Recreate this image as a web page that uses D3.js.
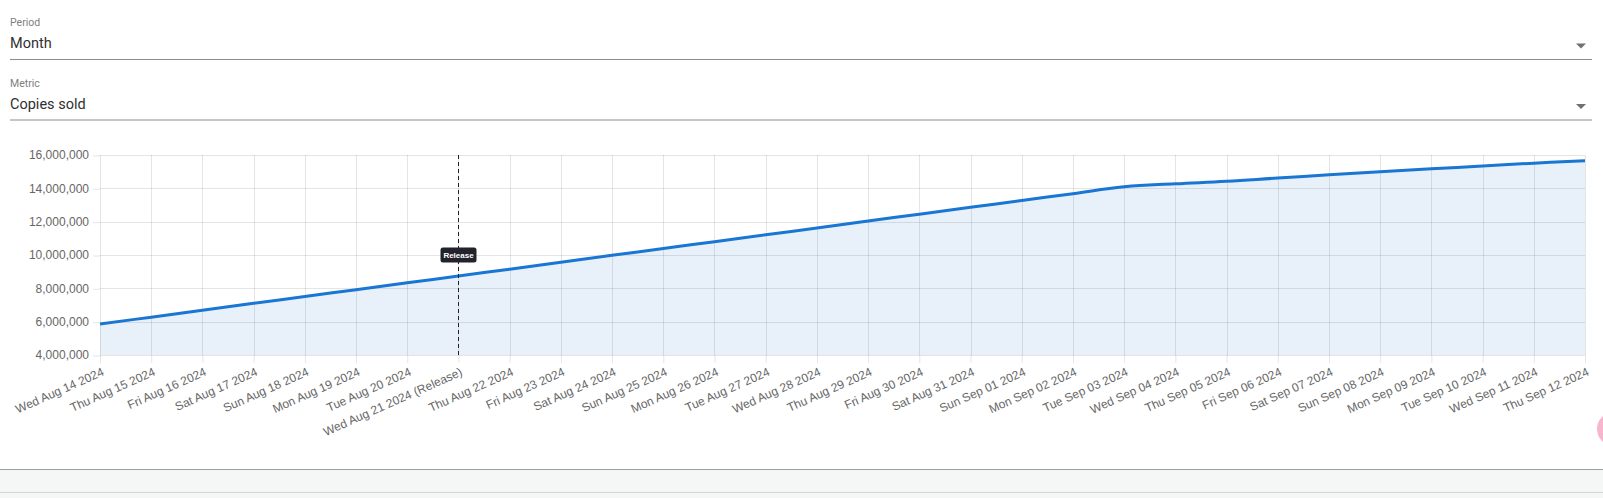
<!DOCTYPE html>
<html>
<head>
<meta charset="utf-8">
<script src="https://cdn.jsdelivr.net/npm/d3@7"></script>
<style>
  body { margin: 0; background: #fff; overflow: hidden; }
  svg { display: block; }
</style>
</head>
<body>
<svg id="chart"></svg>
<script>
// data
var days = ["Wed Aug 14 2024","Thu Aug 15 2024","Fri Aug 16 2024","Sat Aug 17 2024","Sun Aug 18 2024",
  "Mon Aug 19 2024","Tue Aug 20 2024","Wed Aug 21 2024 (Release)","Thu Aug 22 2024","Fri Aug 23 2024",
  "Sat Aug 24 2024","Sun Aug 25 2024","Mon Aug 26 2024","Tue Aug 27 2024","Wed Aug 28 2024",
  "Thu Aug 29 2024","Fri Aug 30 2024","Sat Aug 31 2024","Sun Sep 01 2024","Mon Sep 02 2024",
  "Tue Sep 03 2024","Wed Sep 04 2024","Thu Sep 05 2024","Fri Sep 06 2024","Sat Sep 07 2024",
  "Sun Sep 08 2024","Mon Sep 09 2024","Tue Sep 10 2024","Wed Sep 11 2024","Thu Sep 12 2024"];
var copiesSold = [5860000, 6270000, 6680000, 7100000, 7510000, 7920000, 8330000, 8740000, 9150000, 9570000,
  9980000, 10390000, 10800000, 11210000, 11620000, 12040000, 12450000, 12860000, 13270000, 13680000,
  14090000, 14270000, 14420000, 14620000, 14810000, 14990000, 15170000, 15340000, 15510000, 15660000];
var yTicks = [4000000, 6000000, 8000000, 10000000, 12000000, 14000000, 16000000];
var releaseDay = "Wed Aug 21 2024 (Release)";
var releaseText = "Release";
var fields = [{label: "Period", value: "Month"}, {label: "Metric", value: "Copies sold"}];

var W = 1603, H = 498;
var plot = {left: 100, right: 1585, top: 155, bottom: 355};
var chartFont = "'Liberation Sans', Arial, Helvetica, sans-serif";

var svg = d3.select("#chart").attr("width", W).attr("height", H);

// select fields on top
var fieldG = svg.selectAll(".field").data(fields).enter().append("g")
  .attr("class", "field")
  .attr("transform", function(d, i) { return "translate(0," + (i * 60.5) + ")"; });
fieldG.append("text").attr("x", 10).attr("y", 26)
  .attr("font-family", "Roboto, sans-serif").attr("font-size", 10.5).attr("fill", "#808080")
  .text(function(d) { return d.label; });
fieldG.append("text").attr("x", 10).attr("y", 48)
  .attr("font-family", "Roboto, sans-serif").attr("font-size", 14.5).attr("fill", "#303030")
  .text(function(d) { return d.value; });
fieldG.append("line").attr("x1", 10).attr("x2", 1592).attr("y1", 59.5).attr("y2", 59.5)
  .attr("stroke", "#8c8c8c").attr("stroke-width", 1);
fieldG.append("path").attr("d", "M1576,43.5L1586,43.5L1581,48.5Z").attr("fill", "#707070");

// scales
var x = d3.scalePoint().domain(days).range([plot.left, plot.right]);
var y = d3.scaleLinear().domain([4000000, 16000000]).range([plot.bottom, plot.top]);

var gridColor = "rgba(0,0,0,0.1)";

// grid lines
svg.append("g").selectAll("line").data(days).enter().append("line")
  .attr("x1", function(d) { return Math.round(x(d)) + 0.5; })
  .attr("x2", function(d) { return Math.round(x(d)) + 0.5; })
  .attr("y1", plot.top).attr("y2", plot.bottom)
  .attr("stroke", gridColor);
svg.append("g").selectAll("line").data(yTicks).enter().append("line")
  .attr("x1", plot.left).attr("x2", plot.right)
  .attr("y1", function(d) { return Math.round(y(d)) + 0.5; })
  .attr("y2", function(d) { return Math.round(y(d)) + 0.5; })
  .attr("stroke", gridColor);

// area + line, smoothed a bit like a tension spline
var curve = d3.curveCardinal.tension(-0.2);
var area = d3.area()
  .x(function(d, i) { return x(days[i]); })
  .y0(y(4000000))
  .y1(function(d) { return y(d); })
  .curve(curve);
var line = d3.line()
  .x(function(d, i) { return x(days[i]); })
  .y(function(d) { return y(d); })
  .curve(curve);

svg.append("path").datum(copiesSold).attr("d", area).attr("fill", "rgba(25,118,210,0.1)");
svg.append("path").datum(copiesSold).attr("d", line)
  .attr("fill", "none").attr("stroke", "#1976d2").attr("stroke-width", 3);

// axes
var yAxis = d3.axisLeft(y).tickValues(yTicks).tickSize(7).tickPadding(4).tickFormat(d3.format(","));
var yG = svg.append("g").attr("transform", "translate(" + plot.left + ",0)").call(yAxis);
var xAxis = d3.axisBottom(x).tickSize(8).tickPadding(0);
var xG = svg.append("g").attr("transform", "translate(0," + plot.bottom + ")").call(xAxis);

[yG, xG].forEach(function(g) {
  g.select(".domain").remove();
  g.selectAll(".tick line").attr("stroke", gridColor);
  g.selectAll(".tick text").attr("fill", "#666").attr("font-family", chartFont).attr("font-size", 12);
});
yG.selectAll(".tick line").attr("transform", "translate(0,0.5)");

xG.selectAll(".tick text")
  .attr("text-anchor", "end")
  .attr("dy", null)
  .attr("dominant-baseline", "middle")
  .attr("y", 0)
  .attr("transform", "translate(3,17) rotate(-24)");

// release annotation
var rx = Math.round(x(releaseDay)) + 0.5;
svg.append("line").attr("x1", rx).attr("x2", rx).attr("y1", plot.top).attr("y2", plot.bottom)
  .attr("stroke", "#222").attr("stroke-width", 1).attr("stroke-dasharray", "4,3");
var midY = (plot.top + plot.bottom) / 2;
svg.append("rect").attr("x", rx - 18).attr("y", midY - 7.5).attr("width", 36).attr("height", 15)
  .attr("rx", 2.5).attr("fill", "#23232d");
svg.append("text").attr("x", rx).attr("y", midY + 3)
  .attr("text-anchor", "middle").attr("font-family", chartFont).attr("font-weight", "bold")
  .attr("font-size", 8).attr("fill", "#fff").text(releaseText);

// footer strip and the edge of a floating button
svg.append("rect").attr("x", 0).attr("y", 469).attr("width", W).attr("height", H - 469).attr("fill", "#f5f7f7");
svg.append("line").attr("x1", 0).attr("x2", W).attr("y1", 469.5).attr("y2", 469.5).attr("stroke", "#9e9e9e");
svg.append("line").attr("x1", 0).attr("x2", W).attr("y1", 492.5).attr("y2", 492.5).attr("stroke", "#d3d5d5");
svg.append("circle").attr("cx", 1614).attr("cy", 429).attr("r", 17).attr("fill", "#f7b6cd");
</script>
</body>
</html>
